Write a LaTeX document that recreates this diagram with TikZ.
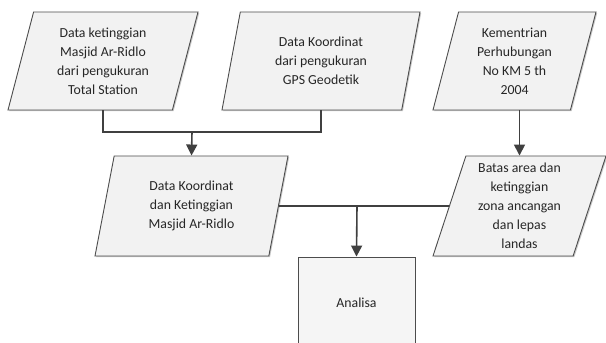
\documentclass[tikz,border=0pt]{standalone}
\usepackage{fontspec}
\setmainfont{Carlito}
\usetikzlibrary{shapes.geometric,arrows.meta,shadows}
\tikzset{
    datatext/.style = {font=\fontsize{13.8}{19}\selectfont, align=center, text=black!85},
    databox/.style = {trapezium, trapezium left angle=69, trapezium right angle=111,
        trapezium stretches body, draw=black!70, line width=0.9pt, fill=black!5,
        inner sep=0pt, datatext,
        drop shadow={shadow xshift=1.2pt, shadow yshift=-1.2pt, fill=black!35, opacity=.6}},
    procbox/.style = {rectangle, draw=black!70, line width=0.9pt, fill=black!4,
        minimum width=117pt, minimum height=92pt, datatext,
        drop shadow={shadow xshift=1.2pt, shadow yshift=-1.2pt, fill=black!35, opacity=.6}},
    flowline/.style = {draw=black!75, line width=1.6pt},
    flowarrow/.style = {flowline, -{Triangle[width=11pt,length=11pt]}}
}

\begin{document}
\begin{tikzpicture}[x=1pt,y=-1pt]
                \useasboundingbox[fill=white] (0,0) rectangle (606,343);

                % INPUT
                \node[databox, minimum width=190pt, minimum height=98pt] (ketinggian) at (103,61)
                    {Data ketinggian\\Masjid Ar-Ridlo\\dari pengukuran\\Total Station};
                \node[databox, minimum width=198pt, minimum height=98pt] (koordinat) at (321,61)
                    {Data Koordinat\\dari pengukuran\\GPS Geodetik};
                \node[databox, minimum width=163pt, minimum height=98pt] (kemenhub) at (514.5,61)
                    {Kementrian\\Perhubungan\\No KM 5 th\\2004};

                % DATA
                \node[databox, minimum width=193pt, minimum height=100pt] (masjid) at (191.5,206)
                    {Data Koordinat\\dan Ketinggian\\Masjid Ar-Ridlo};
                \node[databox, minimum width=173pt, minimum height=100pt] (batas) at (519.5,206)
                    {Batas area dan\\ketinggian\\zona ancangan\\dan lepas\\landas};

                % PROSES
                \node[procbox] (analisa) at (356.5,303) {Analisa};

                %% connectors
                \coordinate (gabung1) at (192,132);
                \coordinate (gabung2) at (357,206);

                \draw[flowline] (ketinggian.south) |- (gabung1) -| (koordinat.south);
                \draw[flowarrow] (gabung1) -- (masjid.north);
                \draw[flowarrow] (kemenhub.south -| batas.north) -- (batas.north);
                \draw[flowline] (masjid.east) -- (batas.west);
                \draw[flowarrow] (gabung2) -- (analisa.north);

            \end{tikzpicture}
\end{document}
